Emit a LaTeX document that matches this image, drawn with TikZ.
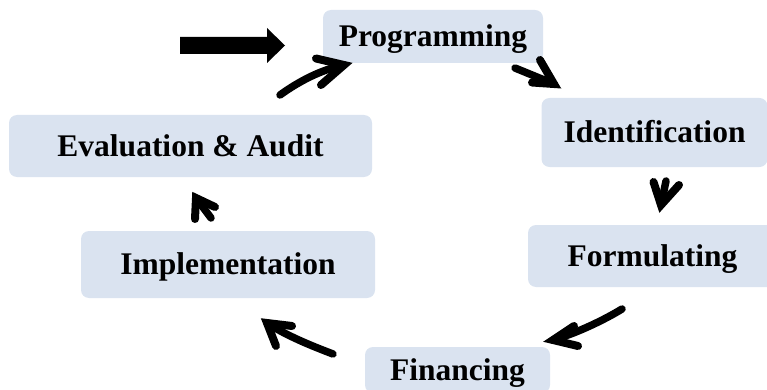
\documentclass[tikz,border=0pt]{standalone}
\usepackage{fontspec}
\setmainfont{Liberation Serif}
\begin{document}
\begin{tikzpicture}[x=1pt,y=-1pt,
  box/.style={fill=boxfill,rounded corners=8pt,inner sep=0pt,
    font=\fontsize{31.5}{36}\selectfont\bfseries,
    text height=20.9pt,text depth=0pt},
  shaft/.style={line width=7.5pt,line cap=round},
  barb/.style={line width=8pt,line cap=round,line join=miter}]
\definecolor{boxfill}{HTML}{DAE3F0}
\useasboundingbox (0,0) rectangle (767,390);
\clip (0,0) rectangle (767,390);
% boxes
\node[box,minimum width=220pt,minimum height=53pt] (prog) at (433,36.5) {Programming};
\node[box,minimum width=226pt,minimum height=69pt] (ident) at (654.5,132.5) {Identification};
\node[box,minimum width=249pt,minimum height=62pt] (form) at (652.5,256) {Formulating};
\node[box,minimum width=185pt,minimum height=46pt] (fin) at (457.5,370) {Financing};
\node[box,minimum width=294pt,minimum height=67pt] (impl) at (228,264.5) {Implementation};
\node[box,minimum width=363pt,minimum height=62pt] (eval) at (190.5,146) {Evaluation \& Audit};
% block arrow
\fill (180,37) -- (267,37) -- (267,28) -- (285,45.5) -- (267,63) -- (267,54) -- (180,54) -- cycle;
% arrow: evaluation -> programming
\coordinate (a1s) at (280,95);
\coordinate (a1t) at (344,65);
\draw[shaft] (a1s) .. controls (298,82) and (320,70) .. (a1t);
\draw[barb] (316,58.5) -- (a1t) -- (321,85);
% arrow: programming -> identification
\coordinate (a2s) at (515,68);
\coordinate (a2t) at (554,84);
\draw[shaft] (a2s) -- (a2t);
\draw[barb] (540,60) -- (a2t) -- (532,82.5);
% arrow: identification -> formulating
\coordinate (a3s) at (666,181);
\coordinate (a3t) at (661,205);
\draw[shaft] (a3s) -- (a3t);
\draw[barb] (653.5,182) -- (a3t) -- (679,185);
% arrow: formulating -> financing
\coordinate (a4s) at (622,309);
\coordinate (a4t) at (553,340);
\draw[shaft] (a4s) .. controls (604,320) and (577,333) .. (a4t);
\draw[barb] (574,326) -- (a4t) -- (578,346);
% arrow: financing -> implementation
\coordinate (a5s) at (333,354);
\coordinate (a5t) at (267,323);
\draw[shaft] (a5s) .. controls (312,346) and (287,336) .. (a5t);
\draw[barb] (292,326) -- (a5t) -- (276,346);
% arrow: implementation -> evaluation
\coordinate (a6s) at (211,218);
\coordinate (a6t) at (196,198);
\draw[shaft] (a6s) -- (a6t);
\draw[barb] (195,219) -- (a6t) -- (215,207);
\end{tikzpicture}
\end{document}
